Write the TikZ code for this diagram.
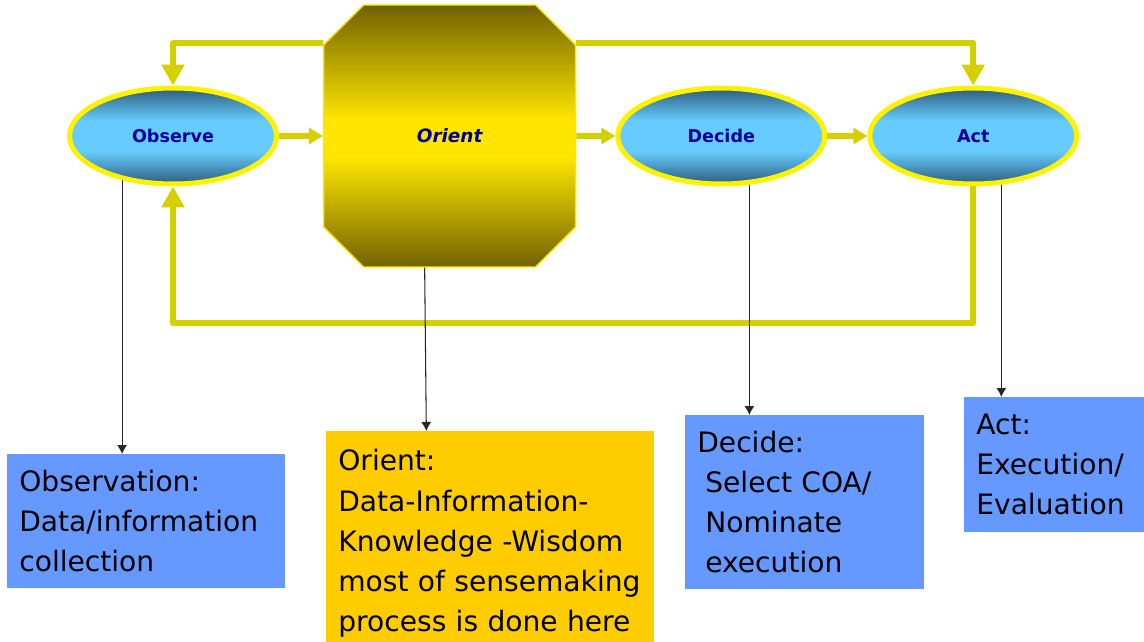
\documentclass[tikz,border=0pt]{standalone}
\usepackage{fontspec}
\setmainfont{DejaVu Sans}
\usetikzlibrary{shapes.geometric, shapes.misc, arrows.meta}
\usetikzlibrary{positioning}
\definecolor{loopyellow}{RGB}{212,208,0}
\definecolor{phaseblue}{RGB}{102,204,255}
\definecolor{phasedark}{RGB}{44,92,124}
\definecolor{labelblue}{RGB}{0,0,153}
\definecolor{hubgold}{RGB}{255,230,0}
\definecolor{hubdark}{RGB}{112,98,0}
\definecolor{noteblue}{RGB}{102,153,255}
\definecolor{noteorange}{RGB}{255,204,0}
\pgfdeclareverticalshading{phaseshade}{100bp}{color(0bp)=(phasedark); color(25bp)=(phasedark); color(42bp)=(phaseblue); color(58bp)=(phaseblue); color(75bp)=(phasedark); color(100bp)=(phasedark)}
\pgfdeclareverticalshading{hubshade}{100bp}{color(0bp)=(hubdark); color(25bp)=(hubdark); color(46bp)=(hubgold); color(53bp)=(hubgold); color(75bp)=(hubdark); color(100bp)=(hubdark)}

\begin{document}
\begin{tikzpicture}[x=0.02cm, y=-0.02cm]

\tikzstyle{phase} = [ellipse, minimum width=4.14cm, minimum height=1.92cm, inner sep=0pt, draw=yellow, line width=0.1cm, shade, shading=phaseshade, text=labelblue, text height=1.6ex, text depth=0.3ex, font=\fontsize{10}{12}\selectfont\bfseries]
\tikzstyle{hub} = [chamfered rectangle, chamfered rectangle xsep=0.72cm, chamfered rectangle ysep=0.72cm, minimum width=5.04cm, minimum height=5.24cm, inner sep=0pt, draw=hubgold, line width=0.8pt, shade, shading=hubshade, text=labelblue, font=\fontsize{10.5}{12}\selectfont\bfseries\itshape]
\tikzstyle{notebox} = [rectangle, anchor=north west, inner xsep=0.24cm, inner ysep=0pt, align=left, text=black, font=\fontsize{16}{22.8}\selectfont]
\tikzstyle{flow} = [line width=0.12cm, draw=loopyellow, -{Triangle[width=0.32cm,length=0.28cm]}]
\tikzstyle{loopline} = [line width=0.12cm, draw=loopyellow, line join=round, -{Triangle[width=0.44cm,length=0.42cm]}]
\tikzstyle{pointer} = [line width=0.6pt, draw=black!85, -{Latex[length=0.18cm,width=0.2cm]}]

\useasboundingbox (0,0) rectangle (1144,642);

\coordinate (toploop) at (0,43);

\node (observe) [phase] at (173,136) {Observe};
\node (orient) [hub, right=0.88cm of observe] {Orient};
\node (decide) [phase, right=0.78cm of orient] {Decide};
\node (act) [phase, right=0.8cm of decide] {Act};

\node (obsnote) [notebox, fill=noteblue, minimum width=5.56cm, minimum height=2.68cm, text width=5.08cm] at (7,454) {Observation:\\Data/information\\collection};
\node (orinote) [notebox, fill=noteorange, minimum width=6.56cm, minimum height=4.48cm, text width=6.08cm] at (326,431) {Orient:\\Data-Information-\\Knowledge -Wisdom\\most of sensemaking\\process is done here};
\node (decnote) [notebox, fill=noteblue, minimum width=4.78cm, minimum height=3.48cm, text width=4.3cm] at (685,415) {Decide:\\\hspace*{0.16cm}Select COA/\\\hspace*{0.16cm}Nominate\\\hspace*{0.16cm}execution};
\node (actnote) [notebox, fill=noteblue, minimum width=3.6cm, minimum height=2.7cm, text width=3.12cm] at (964,397) {Act:\\Execution/\\Evaluation};

\draw [flow] (observe) -- (orient);
\draw [flow] (orient) -- (decide);
\draw [flow] (decide) -- (act);
\draw [loopline] (orient.west |- toploop) -| (observe.north);
\draw [loopline] (orient.east |- toploop) -| (act.north);
\draw [loopline] (act.south) -- ++(0,137) -| (observe.south);

\draw [pointer] (observe.221) -- (obsnote.north -| observe.221);
\draw [pointer] ([xshift=-0.5cm]orient.south) -- ([xshift=-1.28cm]orinote.north);
\draw [pointer] (decide.300) -- (decnote.north -| decide.300);
\draw [pointer] (act.300) -- (actnote.north -| act.300);
\end{tikzpicture}
\end{document}
